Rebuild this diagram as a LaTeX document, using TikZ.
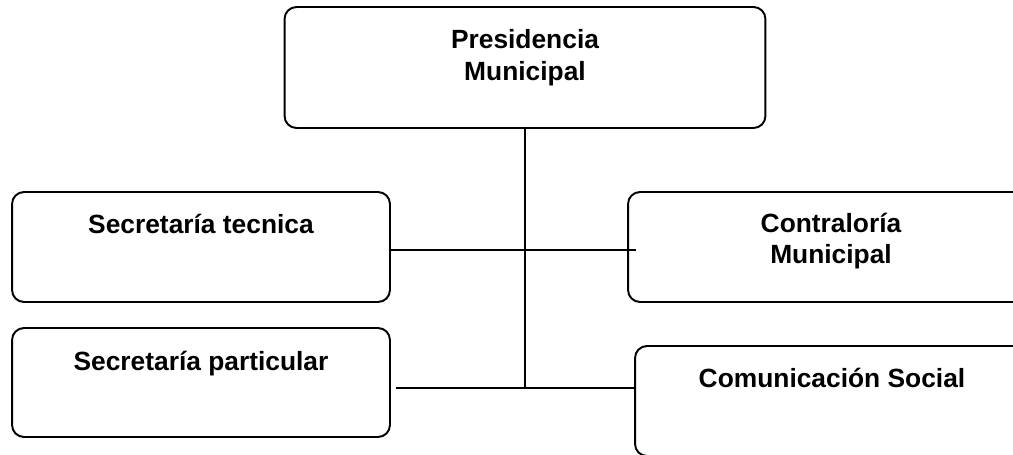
\documentclass[tikz,border=0pt]{standalone}
\usepackage{fontspec}
\setmainfont{Liberation Sans}
\begin{document}
\begin{tikzpicture}[x=0.02cm,y=-0.02cm,
    caja/.style={draw,rounded corners=0.24cm,line width=1.1pt,inner sep=0pt,outer sep=0pt},
    rotulo/.style={anchor=north,inner sep=0pt,align=center,font=\fontsize{15}{18}\selectfont\bfseries},
    linea/.style={line width=1pt}]
        \useasboundingbox (0,0) rectangle (1013,455);
        \clip (0,0) rectangle (1013,455);
        \node[caja,minimum width=9.62cm,minimum height=2.42cm] (pres) at (525,67.5) {};
        \node[caja,minimum width=7.56cm,minimum height=2.2cm] (tec) at (201,247) {};
        \node[caja,minimum width=7.56cm,minimum height=2.18cm] (part) at (201,382.5) {};
        \node[caja,minimum width=8.12cm,minimum height=2.2cm] (contra) at (831,247) {};
        \node[caja,minimum width=7.88cm,minimum height=2.2cm] (com) at (832,401) {};
        \node[rotulo] (presT) at ([yshift=-0.44cm]pres.north) {Presidencia\\Municipal};
        \node[rotulo] (tecT) at ([yshift=-0.43cm]tec.north) {Secretaría tecnica};
        \node[rotulo] (partT) at ([yshift=-0.45cm]part.north) {Secretaría particular};
        \node[rotulo] (contraT) at ([yshift=-0.41cm]contra.north) {Contraloría\\Municipal};
        \node[rotulo] (comT) at ([yshift=-0.43cm]com.north) {Comunicación Social};
        \coordinate (ctip) at (636,250);
        \coordinate (pstart) at (396,388);
        \draw[linea] (pres.south) -- (pres.south |- pstart);
        \draw[linea] (tec.east |- ctip) -- (ctip);
        \draw[linea] (pstart) -- (com.west |- pstart);
    \end{tikzpicture}
\end{document}
